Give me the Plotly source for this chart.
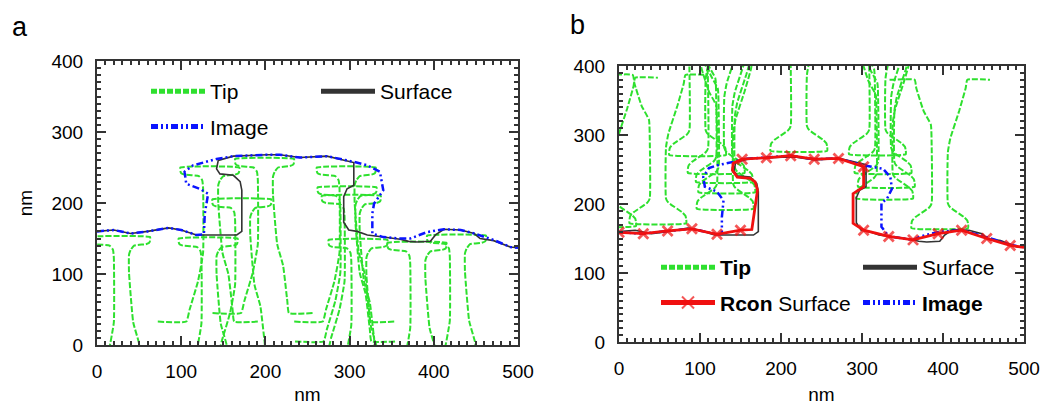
import plotly.graph_objects as go

# ---------------- data (nm) ----------------
# true specimen surface (black)
surface_x = [0, 20, 40, 60, 85, 100, 118, 125, 150, 166, 172, 172, 170, 162, 146, 142, 144, 162, 202, 217, 241, 273,
             305, 305, 297, 293, 293, 299, 309, 321, 340, 360, 370, 380, 396, 402, 412, 432, 448, 455, 471, 491, 500]
surface_y = [160, 162, 157, 160, 165, 162, 155, 155, 155, 155, 160, 218, 230, 239, 241, 248, 260, 266, 268, 268, 264, 266,
             257, 225, 220, 209, 173, 162, 160, 155, 152, 149, 146, 145, 146, 155, 163, 162, 157, 150, 147, 138, 137]

# image (blue), panel a
image_a_x = [0, 20, 40, 60, 85, 100, 118, 127, 128, 130, 132, 122, 106, 104, 114, 142, 162, 202, 217, 241, 273,
             305, 321, 336, 340, 329, 327, 327, 340, 360, 372, 392, 412, 432, 448, 471, 491, 500]
image_a_y = [160, 162, 157, 160, 165, 162, 155, 156, 185, 199, 213, 220, 227, 244, 253, 262, 266, 268, 268, 264, 266,
             258, 253, 244, 218, 199, 185, 157, 152, 150, 150, 159, 163, 162, 157, 148, 138, 137]

# image (blue), panel b
image_b_x = [0, 30, 60, 90, 121, 127, 127, 129, 121, 106, 104, 111, 121, 141, 152, 182, 212, 241, 271, 302, 326,
             335, 337, 331, 324, 324, 333, 363, 372, 385, 397, 423, 440, 454, 483, 500]
image_b_y = [159, 157, 161, 164, 156, 157, 181, 205, 218, 225, 239, 252, 256, 261, 265, 267, 270, 265, 266, 256, 251,
             239, 222, 208, 201, 167, 153, 148, 153, 157, 160, 162, 157, 152, 141, 137]

# reconstructed surface (red), panel b ; mark = 1 where a cross marker is drawn
rcon_x = [0, 30, 60, 90, 121, 150, 164, 168, 171, 168, 162, 146, 140, 141, 152, 182, 212, 241, 271,
          302, 302, 289, 289, 302, 333, 363, 394, 423, 454, 483, 500]
rcon_y = [159, 157, 161, 164, 156, 162, 163, 196, 220, 232, 237, 239, 249, 259, 265, 267, 270, 265, 266,
          254, 225, 215, 172, 162, 153, 148, 157, 162, 150, 140, 137]
rcon_mark = [1, 1, 1, 1, 1, 1, 0, 0, 0, 0, 0, 0, 0, 0, 1, 1, 1, 1, 1,
             1, 0, 0, 0, 1, 1, 1, 1, 1, 1, 1, 0]

# tip outline templates (dx from tip axis, u = distance from apex towards holder)
tip_a_dx = [-57, -29, -27, -22, -15, -10, -10, -12, -16, -30, -34, -35, -35, 35, 35, 34, 30, 13, 9, 8, 8, 14, 24, 28, 62]
tip_a_u = [217, 217, 200, 150, 120, 50, 25, 18, 12, 10, 8, 5, 0, 0, 5, 8, 10, 12, 18, 29, 120, 160, 200, 217, 217]
tip_b_dx = [-62, -31, -29, -20, -11, -10, -10, -13, -30, -34, -35, -35, 35, 35, 34, 30, 13, 10, 10, 13, 24, 32, 34, 62]
tip_b_u = [215, 215, 203, 170, 150, 120, 36, 30, 16, 11, 6, 0, 0, 6, 11, 16, 30, 36, 110, 130, 170, 203, 215, 215]

# tip apex positions
tips_a_x = [28, 132, 310, 380, 427, 172, 302, 297, 134, 199, 296]
tips_a_y = [152, 150, 148, 144, 154, 205, 210, 222, 250, 262, 250]
tips_b_x = [-14, 48, 97, 120, 130, 133, 131, 222, 319, 326, 330, 328, 396]
tips_b_y = [168, 172, 271, 245, 232, 217, 193, 277, 272, 245, 225, 208, 165]

# ---------------- styling ----------------
GREEN = "#2ee02e"
BLUE = "#0a14ff"
RED = "#f01010"
DARK = "#333333"
FONT = "Liberation Sans"


def tip_paths(cx, cy, dxs, us, sign):
    xs, ys = [], []
    for c, a in zip(cx, cy):
        xs += [c + sign * d for d in dxs] + [None]
        ys += [a + sign * u for u in us] + [None]
    return xs, ys


fig = go.Figure()

# ---- panel a ----
ta_x, ta_y = tip_paths(tips_a_x, tips_a_y, tip_a_dx, tip_a_u, -1)
fig.add_trace(go.Scatter(x=ta_x, y=ta_y, mode="lines", name="Tip", legend="legend", legendgroup="a1",
                         line=dict(color=GREEN, width=2, dash="6px,2px", shape="spline", smoothing=0.4),
                         xaxis="x", yaxis="y"))
fig.add_trace(go.Scatter(x=surface_x, y=surface_y, mode="lines", name="Surface", legend="legend2",
                         line=dict(color=DARK, width=1.6), xaxis="x", yaxis="y"))
fig.add_trace(go.Scatter(x=image_a_x, y=image_a_y, mode="lines", name="Image", legend="legend", legendgroup="a2",
                         line=dict(color=BLUE, width=2.5, dash="7px,3px,2px,3px,2px,3px"), xaxis="x", yaxis="y"))

# ---- panel b ----
tb_x, tb_y = tip_paths(tips_b_x, tips_b_y, tip_b_dx, tip_b_u, 1)
fig.add_trace(go.Scatter(x=tb_x, y=tb_y, mode="lines", name="<b>Tip</b>", legend="legend3", legendgroup="b1",
                         line=dict(color=GREEN, width=2, dash="6px,2px", shape="spline", smoothing=0.4),
                         xaxis="x2", yaxis="y2"))
fig.add_trace(go.Scatter(x=surface_x, y=surface_y, mode="lines", name="Surface", legend="legend4", legendgroup="b3",
                         line=dict(color=DARK, width=1.6), xaxis="x2", yaxis="y2"))
fig.add_trace(go.Scatter(x=image_b_x, y=image_b_y, mode="lines", name="<b>Image</b>", legend="legend4", legendgroup="b4",
                         line=dict(color=BLUE, width=2.5, dash="7px,3px,2px,3px,2px,3px"), xaxis="x2", yaxis="y2"))
fig.add_trace(go.Scatter(x=rcon_x, y=rcon_y, mode="lines+markers", name="<b>Rcon</b> Surface", legend="legend3",
                         legendgroup="b2",
                         line=dict(color=RED, width=2.8),
                         marker=dict(symbol="x-thin", size=[10 if m else 0 for m in rcon_mark],
                                     line=dict(color=RED, width=2.8), color=RED),
                         xaxis="x2", yaxis="y2"))

W, H = 1048, 405
axis_common = dict(range=[0, 500], dtick=100, showline=True, linecolor=DARK, linewidth=2, mirror="allticks",
                   ticks="inside", ticklen=9, tickwidth=2, tickcolor=DARK, showgrid=False, zeroline=False,
                   automargin=False,
                   tickfont=dict(family=FONT, size=19, color="black"), ticklabelstandoff=8,
                   minor=dict(ticks="inside", dtick=10, ticklen=4, tickwidth=1.5, tickcolor=DARK, showgrid=False))
yaxis_common = dict(axis_common, range=[0, 400])

legend_common = dict(bgcolor="rgba(0,0,0,0)", font=dict(family=FONT, size=21, color="black"),
                     itemwidth=54, traceorder="grouped", tracegroupgap=5, xanchor="left", yanchor="top",
                     itemsizing="constant")

fig.update_layout(
    width=W, height=H, margin=dict(l=0, r=0, t=0, b=0, autoexpand=False),
    paper_bgcolor="white", plot_bgcolor="white",
    font=dict(family=FONT, color="black"),
    xaxis=dict(axis_common, domain=[97 / W, 518 / W], anchor="y",
               title=dict(text="nm", font=dict(family=FONT, size=19), standoff=10)),
    yaxis=dict(yaxis_common, domain=[(H - 345) / H, (H - 61) / H], anchor="x",
               title=dict(text="nm", font=dict(family=FONT, size=19), standoff=14)),
    xaxis2=dict(axis_common, domain=[619 / W, 1024 / W], anchor="y2",
                title=dict(text="nm", font=dict(family=FONT, size=19), standoff=10)),
    yaxis2=dict(yaxis_common, domain=[(H - 342) / H, (H - 66) / H], anchor="x2"),
    legend=dict(legend_common, x=146 / W, y=(H - 71) / H),
    legend2=dict(legend_common, x=316 / W, y=(H - 71) / H),
    legend3=dict(legend_common, x=656 / W, y=(H - 247) / H),
    legend4=dict(legend_common, x=858 / W, y=(H - 247) / H),
    showlegend=True,
    annotations=[
        dict(text="a", x=10 / W, y=(H - 27) / H, xref="paper", yref="paper", xanchor="left", yanchor="middle",
             showarrow=False, font=dict(family=FONT, size=27, color="black")),
        dict(text="b", x=568 / W, y=(H - 25) / H, xref="paper", yref="paper", xanchor="left", yanchor="middle",
             showarrow=False, font=dict(family=FONT, size=27, color="black")),
    ],
)

fig.write_html("out.html", config=dict(displayModeBar=False),
               post_script="document.body.style.margin='0px';document.body.style.padding='0px';"
                           "document.body.style.overflow='hidden';")
